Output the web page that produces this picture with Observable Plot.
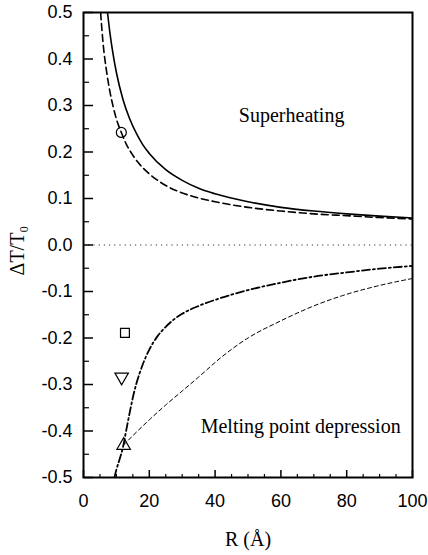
<!DOCTYPE html>
<html><head><meta charset="utf-8">
<script src="https://cdn.jsdelivr.net/npm/d3@7"></script>
<script src="https://cdn.jsdelivr.net/npm/@observablehq/plot@0.6"></script>
<style>html,body{margin:0;padding:0;background:#fff}</style>
</head><body><div id="chart"></div>
<script>
// Superheating (solid)
const solidR = [7.3, 8, 9, 10, 12, 14, 16, 18, 20, 25, 30, 35, 40, 50, 60, 70, 80, 90, 100];
const solidT = [0.5, 0.458, 0.41, 0.371, 0.313, 0.272, 0.241, 0.216, 0.197, 0.162, 0.139, 0.122, 0.110, 0.093, 0.081, 0.073, 0.067, 0.062, 0.058];
// Superheating (dashed)
const dashedR = [5.2, 6, 7, 8, 9, 10, 11.5, 13, 15, 17, 20, 25, 30, 35, 40, 50, 60, 70, 80, 90, 100];
const dashedT = [0.5, 0.43, 0.374, 0.331, 0.298, 0.271, 0.242, 0.217, 0.193, 0.174, 0.153, 0.128, 0.112, 0.101, 0.093, 0.081, 0.073, 0.067, 0.063, 0.059, 0.056];
// Melting point depression (dash-dot)
const dashDotR = [9.4, 10, 11, 12, 13, 14, 15, 16, 17, 18, 20, 22.4, 25, 27.5, 30, 35, 40, 50, 60, 70, 80, 90, 100];
const dashDotT = [-0.5, -0.483, -0.46, -0.435, -0.398, -0.362, -0.328, -0.3, -0.277, -0.257, -0.225, -0.197, -0.176, -0.16, -0.148, -0.131, -0.118, -0.097, -0.081, -0.068, -0.059, -0.051, -0.045];
// Melting point depression (thin short dashes)
const thinR = [12.2, 15, 20, 25, 30, 35, 41.6, 50, 60, 70, 80, 90, 100];
const thinT = [-0.43, -0.41, -0.376, -0.344, -0.314, -0.284, -0.243, -0.2, -0.163, -0.131, -0.106, -0.087, -0.072];
// Experimental points
const pointR = [11.5, 12.6, 11.6, 12.2];
const pointT = [0.242, -0.189, -0.284, -0.431];
const pointSymbol = ["circle", "square", "triangle", "triangle"];
const pointRotate = [0, 0, 180, 0];
// Annotations
const labels = ["Superheating", "Melting point depression"];
const labelR = [79.3, 96.4];
const labelT = [0.278, -0.39];
// Ticks
const xMajorTicks = [0, 20, 40, 60, 80, 100];
const xMinorTicks = [5, 10, 15, 25, 30, 35, 45, 50, 55, 65, 70, 75, 85, 90, 95];
const yMajorTicks = [-0.5, -0.4, -0.3, -0.2, -0.1, 0.0, 0.1, 0.2, 0.3, 0.4, 0.5];
const yMinorTicks = [-0.45, -0.35, -0.25, -0.15, -0.05, 0.05, 0.15, 0.25, 0.35, 0.45];

const zip = (xs, ys) => xs.map((x, i) => ({x, y: ys[i]}));
const points = pointR.map((x, i) => ({x, y: pointT[i], s: pointSymbol[i], r: pointRotate[i]}));
const serif = "Liberation Serif, Times New Roman, serif";

const chart = Plot.plot({
  width: 428, height: 555,
  marginLeft: 83, marginRight: 16, marginTop: 12, marginBottom: 78,
  x: {domain: [0, 100]},
  y: {domain: [-0.5, 0.5]},
  style: {fontFamily: "Liberation Sans, Arial, sans-serif", fontSize: "18px", color: "#000", background: "#fff"},
  marks: [
    Plot.ruleY([0], {x1: 0, x2: 100, stroke: "#333", strokeWidth: 1, strokeDasharray: "1.2,4"}),
    Plot.line(zip(solidR, solidT), {x: "x", y: "y", stroke: "#000", strokeWidth: 1.6, curve: "monotone-x", clip: true}),
    Plot.line(zip(dashedR, dashedT), {x: "x", y: "y", stroke: "#000", strokeWidth: 1.6, strokeDasharray: "7,4", curve: "monotone-x", clip: true}),
    Plot.line(zip(dashDotR, dashDotT), {x: "x", y: "y", stroke: "#000", strokeWidth: 1.8, strokeDasharray: "8,3,2,3", curve: "monotone-x", clip: true}),
    Plot.line(zip(thinR, thinT), {x: "x", y: "y", stroke: "#000", strokeWidth: 1, strokeDasharray: "4,3", curve: "monotone-x", clip: true}),
    Plot.dot(points, {x: "x", y: "y", symbol: "s", rotate: "r", r: 5, stroke: "#000", strokeWidth: 1.2, fill: "none"}),
    Plot.text(labels, {x: (d, i) => labelR[i], y: (d, i) => labelT[i], text: d => d, textAnchor: "end", fontFamily: serif, fontSize: 20}),
    // tick labels
    Plot.axisX(xMajorTicks, {tickSize: 0, tickPadding: 17, tickFormat: d => String(d), label: null}),
    Plot.axisY(yMajorTicks, {tickSize: 0, tickPadding: 11, tickFormat: d => d.toFixed(1), label: null}),
    // inward ticks
    Plot.axisX(xMajorTicks, {anchor: "top", frameAnchor: "bottom", tickSize: 8, strokeWidth: 1.5, tickFormat: () => "", label: null}),
    Plot.axisX(xMinorTicks, {anchor: "top", frameAnchor: "bottom", tickSize: 4, strokeWidth: 1.2, tickFormat: () => "", label: null}),
    Plot.axisY(yMajorTicks, {anchor: "right", frameAnchor: "left", tickSize: 9, strokeWidth: 1.5, tickFormat: () => "", label: null}),
    Plot.axisY(yMinorTicks, {anchor: "right", frameAnchor: "left", tickSize: 5, strokeWidth: 1.2, tickFormat: () => "", label: null}),
    Plot.frame({stroke: "#000", strokeWidth: 2}),
    // axis titles
    Plot.text(["ΔT/T₀"], {x: 0, y: -0.012, dx: -66, rotate: -90, text: d => d, fontFamily: serif, fontSize: 20}),
    Plot.text(["R (Å)"], {x: 50, frameAnchor: "bottom", dy: 68, text: d => d, fontFamily: serif, fontSize: 20})
  ]
});
document.getElementById("chart").append(chart);
</script>
</body></html>
